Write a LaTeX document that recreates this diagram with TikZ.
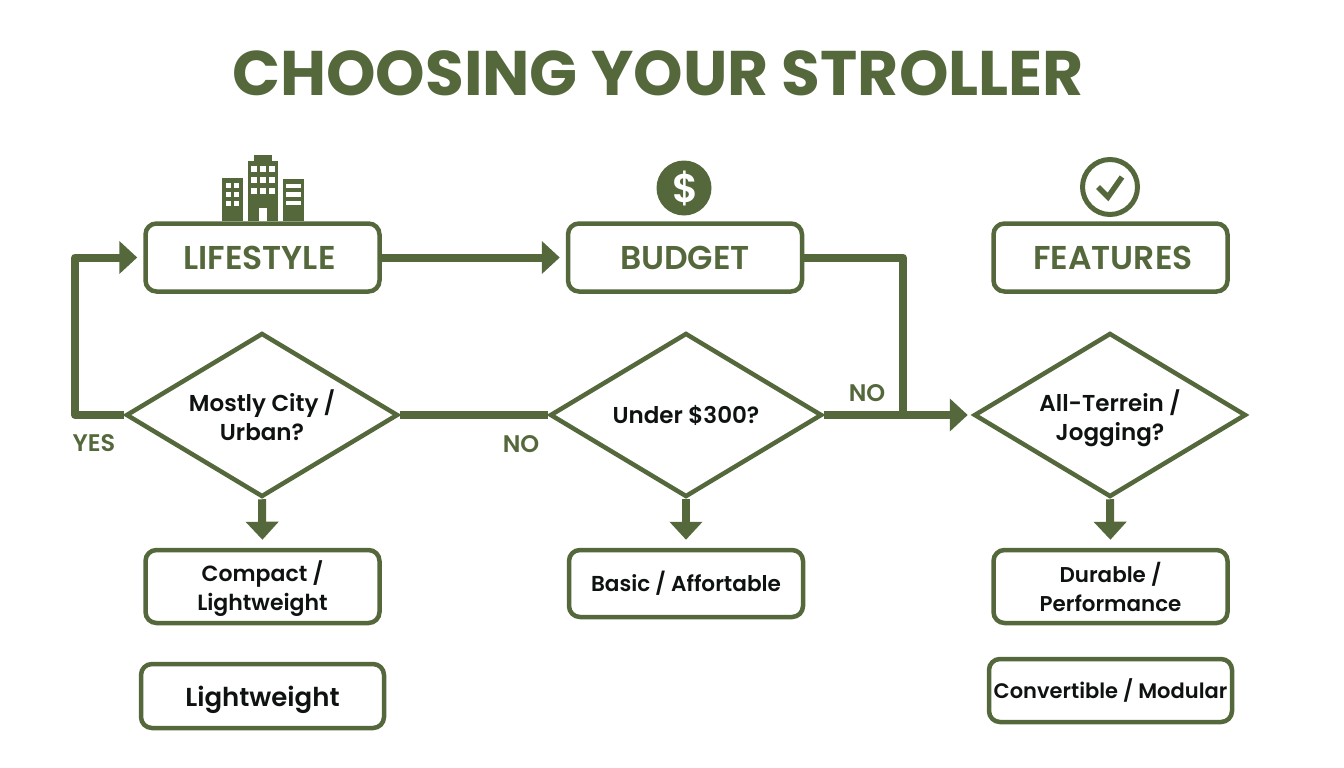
\documentclass[tikz,border=0pt]{standalone}
\usepackage{fontspec}
\setmainfont{Poppins}[BoldFont={Poppins SemiBold}]
\newfontfamily\titlefont{Poppins}[UprightFont={Poppins Bold}]
\usepackage{tikz}
\usetikzlibrary{arrows.meta,shapes.geometric}
\definecolor{olive}{RGB}{84,104,60}
\definecolor{ink}{RGB}{14,18,16}
\newcommand{\fs}[1]{\fontsize{#1}{29}\selectfont}

\begin{document}
\begin{tikzpicture}
         [x=1pt,y=-1pt,
          head/.style={draw=olive,line width=4.5pt,rounded corners=11pt,fill=white,minimum width=234pt,minimum height=68pt,inner sep=0pt,text=olive,font=\fs{33}\bfseries},
          result/.style={draw=olive,line width=4.5pt,rounded corners=11pt,fill=white,inner sep=0pt,align=center,text=ink,font=\fs{22}\bfseries,minimum width=234pt},
          query/.style={draw=olive,line width=4.5pt,shape=diamond,aspect=1.65,fill=white,minimum width=272pt,minimum height=164pt,inner sep=0pt,align=center,text=ink,font=\fs{23}\bfseries},
          flow/.style={draw=olive,line width=8pt,line join=round},
          flowto/.style={flow,-{Triangle[length=18pt,width=32pt]},shorten >=6pt},
          tag/.style={text=olive,inner sep=0pt,font=\fs{24}\bfseries}]
         \useasboundingbox (0,0) rectangle (1344,768);

         \node (title) [text=olive,inner sep=0pt,font=\fs{63}\titlefont] at (658,73) {CHOOSING YOUR STROLLER};

         \node (life) [head] at (262.5,257.5) {\hspace*{-6pt}LIFESTYLE};
         \node (budget) [head] at (685,257.5) {BUDGET};
         \node (feat) [head] at (1110.5,257.5) {\hspace*{5pt}FEATURES};

         \node (q1) [query] at (262,415) {Mostly City /\\Urban?};
         \node (q2) [query] at (686,415) {Under \$300?};
         \node (q3) [query] at (1110,415) {\rule{0pt}{28pt}All-Terrein /\\Jogging?};

         \node (compact) [result,minimum height=73pt] at (262.5,586.5) {\rule{0pt}{24pt}Compact /\\Lightweight};
         \node (light) [result,minimum width=243pt,minimum height=64pt,font=\fs{26}\bfseries] at (262.5,696) {\rule{0pt}{28pt}Lightweight};
         \node (basic) [result,minimum height=67pt,font=\fs{21.6}\bfseries] at (686,583.5) {Basic / Affortable};
         \node (durable) [result,minimum height=73pt,font=\fs{21.4}\bfseries] at (1110.5,586.5) {Durable /\\Performance};
         \node (conv) [result,minimum width=243pt,minimum height=63pt,font=\fs{21}\bfseries] at (1110.5,690.5) {Convertible / Modular};

         \coordinate (bend) at (75,257.5);
         \coordinate (join) at (903,415);

         \draw[flowto] (q1.west) -- (bend |- q1.west) -- (bend) -- (life.west);
         \draw[flowto] (life.east) -- (budget.west);
         \draw[flow] (q1.east) -- (q2.west);
         \draw[flow] (budget.east) -| (join);
         \draw[flowto,shorten >=4pt] (q2.east) -- (q3.west);
         \draw[flowto,shorten >=8pt] (q1.south) -- (compact.north);
         \draw[flowto,shorten >=8pt] (q2.south) -- (basic.north);
         \draw[flowto,shorten >=8pt] (q3.south) -- (durable.north);

         \node (yes) [tag] at (94,443) {YES};
         \node (no1) [tag] at (521,444) {NO};
         \node (no2) [tag] at (867,393) {NO};

         % city icon
         \fill[olive] (222,178) rectangle (243,221);
         \fill[olive] (248,161) rectangle (278,221);
         \fill[olive] (254,155) rectangle (272,161);
         \fill[olive] (283,179) rectangle (304,221);
         \foreach \x in {228.5,236.5}
            \foreach \y in {185,194,203}
               \fill[white] (\x-2.5,\y-2.5) rectangle (\x+2.5,\y+2.5);
         \foreach \x in {254,263,272}
            \foreach \y in {169,180,191}
               \fill[white] (\x-2.7,\y-3) rectangle (\x+2.7,\y+3);
         \fill[white] (259,208) rectangle (267,221);
         \foreach \y in {185.7,194.3,203}
            \fill[white] (286,\y-2.2) rectangle (301,\y+2.2);

         % money icon
         \node (coin) [circle,fill=olive,minimum size=55pt,inner sep=0pt,text=white,font=\fs{40}\bfseries] at (684,188) {\hspace*{3pt}\$};

         % check icon
         \node (tick) [circle,draw=olive,line width=5pt,minimum size=55pt,inner sep=0pt] at (1110,187) {};
         \draw[olive,line width=5.5pt] (1098,187) -- (1108,197) -- (1122,177);
      \end{tikzpicture}
\end{document}
